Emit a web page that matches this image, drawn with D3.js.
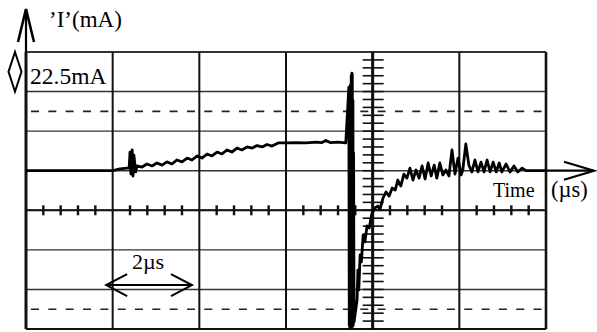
<!DOCTYPE html>
<html>
<head>
<meta charset="utf-8">
<script src="https://cdn.jsdelivr.net/npm/d3@7"></script>
<style>
  html, body { margin: 0; padding: 0; background: #fff; }
  svg { display: block; }
  text { font-family: "Liberation Serif", "Times New Roman", serif; fill: #000; }
</style>
</head>
<body>
<svg id="chart" width="597" height="332"></svg>
<script>
// Time axis (µs): one division = 2 µs
const timeDivisions = [0, 2, 4, 6, 8, 10, 12];
// Current axis (mA): one division = 22.5 mA
const currentDivisions = [67.5, 45, 22.5, 0, -22.5, -45, -67.5, -90];
const dashedLevels = [33.75, -78.75];
const tickAxisCurrent = -22.5;   // horizontal graduated axis
const tickAxisTime = 8;          // vertical graduated axis
const scaleLabel = "22.5mA";
const timeScaleLabel = "2µs";
const yAxisTitle = "’I’(mA)";
const xAxisTitleA = "Time";
const xAxisTitleB = "(µs)";

// Recorded current trace: time (µs) and current (mA)
const traceTime = [
  0, 0.78, 2.01, 2.17, 2.33,
  2.38, 2.40, 2.42, 2.45, 2.47, 2.49, 2.53, 2.56,
  2.68, 2.79, 2.91, 3.02, 3.14, 3.25, 3.37, 3.48, 3.60, 3.72, 3.83, 3.95,
  4.06, 4.18, 4.29, 4.41, 4.52, 4.64, 4.75, 4.87, 4.98, 5.10, 5.22, 5.33,
  5.45, 5.56, 5.68, 5.82, 6.00, 6.23, 6.46, 6.69, 6.83, 6.92, 7.02, 7.20, 7.38,
  7.45, 7.46, 7.465, 7.47, 7.48, 7.485, 7.49, 7.50, 7.505, 7.51, 7.52, 7.525,
  7.53, 7.54, 7.545, 7.55, 7.56, 7.57,
  7.64, 7.66, 7.68, 7.71, 7.74, 7.78, 7.82, 7.87, 7.92, 7.98, 8.05, 8.12,
  8.17, 8.24, 8.31, 8.38, 8.45, 8.52, 8.58, 8.65, 8.72, 8.79, 8.86, 8.93,
  9.00, 9.07, 9.14, 9.21, 9.28, 9.35, 9.42, 9.48, 9.55, 9.62, 9.69, 9.76,
  9.83, 9.90, 9.97, 10.04, 10.08, 10.15, 10.22, 10.29, 10.36, 10.43, 10.50,
  10.57, 10.64, 10.71, 10.78, 10.85, 10.92, 10.98, 11.08, 11.17, 11.26,
  11.35, 11.45, 11.54, 12.0
];
const traceCurrent = [
  0, 0, 0, 1.0, 1.5,
  1.5, 10.6, -1.9, 11.8, -3.0, 8.9, -0.7, 2.7,
  2.1, 3.8, 2.7, 4.4, 3.2, 5.0, 3.8, 6.1, 5.0, 7.2, 6.1, 8.4,
  7.2, 9.5, 8.4, 10.6, 9.5, 11.8, 10.6, 12.9, 11.8, 13.5, 12.9, 14.3,
  13.5, 14.9, 14.0, 15.8, 15.8, 16.0, 15.8, 16.3, 16.0, 17.2, 16.0, 16.3, 15.8,
  47.5, -88, 47, -89, 48, -88, 49, -89, 54, -88, 55.5, -89,
  55, -88, 40, -88, 10, -86,
  -73.5, -56.5, -67.8, -47.9, -51.9, -36.6, -40.5, -31.4, -32.6, -24.6, -21.2, -20.1,
  -21.8, -15.5, -12.1, -14.4, -9.8, -11.0, -5.3, -8.7, -1.9, -4.2, 1.5, -5.3,
  0.4, -4.2, 2.7, -4.7, 4.4, -3.0, 3.2, -4.2, 4.4, -2.4, 0.4, -3.0,
  11.8, -1.9, 7.2, -2.4, 0.4, 15.2, 3.2, -0.7, 6.1, -0.7, 4.9,
  -0.7, 6.1, -0.7, 4.9, -0.7, 4.4, -0.7, 3.8, -0.7, 2.7,
  -0.7, 1.5, 0, 0
];

const svg = d3.select("#chart");
const x = d3.scaleLinear().domain([0, 12]).range([26, 546]);
const y = d3.scaleLinear().domain([-90, 67.5]).range([329, 52]);

const g = svg.append("g");

// Horizontal graticule lines
g.selectAll("line.h").data(currentDivisions).join("line")
  .attr("x1", x(0)).attr("x2", x(12))
  .attr("y1", d => y(d)).attr("y2", d => y(d))
  .attr("stroke", "#333").attr("stroke-width", 1.4);

// Dashed half-division lines
g.selectAll("line.dash").data(dashedLevels).join("line")
  .attr("x1", x(0)).attr("x2", x(12))
  .attr("y1", d => y(d)).attr("y2", d => y(d))
  .attr("stroke", "#222").attr("stroke-width", 1.6)
  .attr("stroke-dasharray", "8 9.33")
  .attr("stroke-dashoffset", -5);

// Vertical graticule lines
g.selectAll("line.v").data(timeDivisions).join("line")
  .attr("x1", d => x(d)).attr("x2", d => x(d))
  .attr("y1", y(67.5)).attr("y2", y(-90))
  .attr("stroke", "#111")
  .attr("stroke-width", d => (d === 0 ? 3 : d === 12 ? 2.6 : 2));

// Top and bottom frame
g.append("line").attr("x1", x(0)).attr("x2", x(12)).attr("y1", y(67.5)).attr("y2", y(67.5))
  .attr("stroke", "#222").attr("stroke-width", 1.6);
g.append("line").attr("x1", x(0)).attr("x2", x(12)).attr("y1", y(-90)).attr("y2", y(-90))
  .attr("stroke", "#111").attr("stroke-width", 2);

// Graduated horizontal axis
const minorT = d3.range(0, 12.001, 0.4).filter(t => Math.abs(t / 2 - Math.round(t / 2)) > 1e-6);
g.append("line").attr("x1", x(0)).attr("x2", x(12))
  .attr("y1", y(tickAxisCurrent)).attr("y2", y(tickAxisCurrent))
  .attr("stroke", "#111").attr("stroke-width", 2);
g.selectAll("line.tx").data(minorT).join("line")
  .attr("x1", d => x(d)).attr("x2", d => x(d))
  .attr("y1", y(tickAxisCurrent) - 5).attr("y2", y(tickAxisCurrent) + 5)
  .attr("stroke", "#111").attr("stroke-width", 2.4);

// Graduated vertical axis
const minorI = d3.range(0, 36).map(i => 67.5 - 4.5 * i).filter(v => v > -90 && v < 67.5);
g.append("line").attr("x1", x(tickAxisTime)).attr("x2", x(tickAxisTime))
  .attr("y1", y(67.5)).attr("y2", y(-90))
  .attr("stroke", "#111").attr("stroke-width", 3);
g.selectAll("line.ty").data(minorI.filter(v => v < 66)).join("line")
  .attr("x1", x(tickAxisTime) - 10).attr("x2", x(tickAxisTime) + 11)
  .attr("y1", d => y(d)).attr("y2", d => y(d))
  .attr("stroke", "#111").attr("stroke-width", 1.6);

// Current trace
const trace = traceTime.map((t, i) => [t, traceCurrent[i]]);
g.append("path").datum(trace)
  .attr("fill", "none").attr("stroke", "#000")
  .attr("stroke-width", 2.8).attr("stroke-linejoin", "round")
  .attr("d", d3.line().x(d => x(d[0])).y(d => y(d[1])));

// Time axis arrow
const ax = g.append("g").attr("fill", "none").attr("stroke", "#000").attr("stroke-width", 2.2);
ax.append("line").attr("x1", x(12)).attr("x2", x(12) + 48).attr("y1", y(0)).attr("y2", y(0));
ax.append("polyline").attr("points", [
  [x(12) + 18, y(0) - 9], [x(12) + 48, y(0)], [x(12) + 18, y(0) + 9]
].join(" "));

// Current axis arrow
ax.append("line").attr("x1", x(0)).attr("x2", x(0)).attr("y1", y(67.5)).attr("y2", 9);
ax.append("polyline").attr("stroke-width", 2.6).attr("points", [
  [x(0) - 8, 42], [x(0), 9], [x(0) + 8, 42]
].join(" "));

// Division marker diamond
g.append("polygon")
  .attr("fill", "none").attr("stroke", "#000").attr("stroke-width", 2)
  .attr("points", [
    [15, y(67.5)], [21.5, (y(67.5) + y(45)) / 2], [15, y(45)], [8.5, (y(67.5) + y(45)) / 2]
  ].join(" "));

// One-division time span arrow
const t0 = 1.85, t1 = 3.83, ia = -65;
const sp = g.append("g").attr("fill", "none").attr("stroke", "#000").attr("stroke-width", 2);
sp.append("line").attr("x1", x(t0)).attr("x2", x(t1)).attr("y1", y(ia)).attr("y2", y(ia));
sp.append("polyline").attr("points", [[x(t0) + 21, y(ia) - 11], [x(t0), y(ia)], [x(t0) + 21, y(ia) + 11]].join(" "));
sp.append("polyline").attr("points", [[x(t1) - 21, y(ia) - 11], [x(t1), y(ia)], [x(t1) - 21, y(ia) + 11]].join(" "));

// Labels
svg.append("text").attr("x", 49).attr("y", 27).attr("font-size", 23).text(yAxisTitle);
svg.append("text").attr("x", 30).attr("y", 84).attr("font-size", 23.5).text(scaleLabel);
svg.append("text").attr("x", 148).attr("y", 269).attr("font-size", 22)
  .attr("text-anchor", "middle").text(timeScaleLabel);
const tt = svg.append("text").attr("y", 197).attr("font-size", 20);
tt.append("tspan").attr("x", 493).text(xAxisTitleA);
tt.append("tspan").attr("x", 551).attr("font-size", 22.5).text(xAxisTitleB);
</script>
</body>
</html>
